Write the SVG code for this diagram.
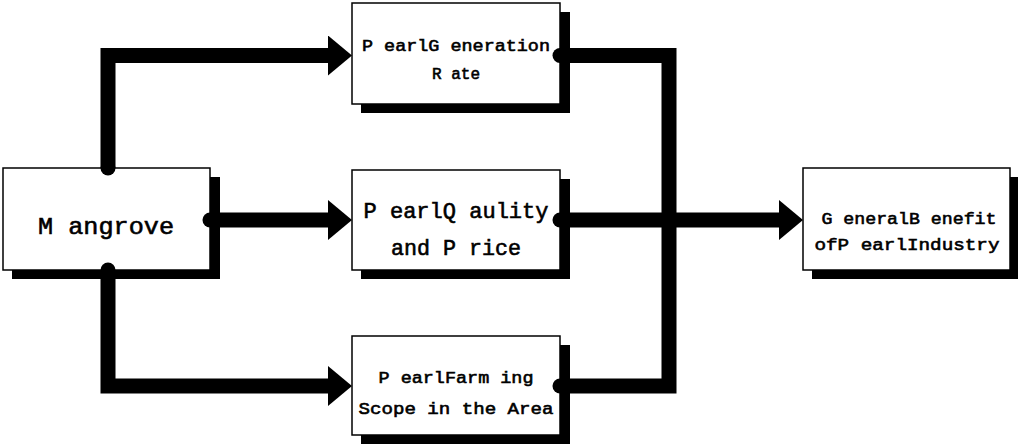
<svg xmlns="http://www.w3.org/2000/svg" width="1018" height="446" viewBox="0 0 1018 446">
<style>
.box{fill:#fff;stroke:#000;stroke-width:1.5}
.sh{fill:#000}
.t{font-family:"Liberation Mono","Courier New",monospace;font-weight:normal;fill:#000;stroke:#000;stroke-width:0.6;text-anchor:middle}
.line{fill:none;stroke:#000;stroke-width:15;stroke-linejoin:miter}
</style>
<defs>
<marker id="ah" markerUnits="userSpaceOnUse" markerWidth="24" markerHeight="40" refX="0" refY="20" orient="auto" viewBox="0 0 24 40">
<polygon points="0,0 24,20 0,40" fill="#000"/>
</marker>
</defs>
<rect width="1018" height="446" fill="#fff"/>
<g id="mangrove">
<rect class="sh" x="12" y="177" width="208" height="102"/>
<rect class="box" x="3" y="168" width="207" height="102"/>
<text class="t" x="106" y="234" font-size="24" textLength="136" lengthAdjust="spacingAndGlyphs">M angrove</text>
</g>
<g id="generation">
<rect class="sh" x="361" y="12" width="209" height="101"/>
<rect class="box" x="352" y="3" width="208" height="101"/>
<text class="t" x="456" y="51" font-size="17" textLength="188" lengthAdjust="spacingAndGlyphs">P earlG eneration</text>
<text class="t" x="456" y="79" font-size="17" textLength="48" lengthAdjust="spacingAndGlyphs">R ate</text>
</g>
<g id="quality">
<rect class="sh" x="361" y="179" width="209" height="100"/>
<rect class="box" x="352" y="170" width="208" height="100"/>
<text class="t" x="456" y="218" font-size="22" textLength="185" lengthAdjust="spacingAndGlyphs">P earlQ aulity</text>
<text class="t" x="456" y="255" font-size="22" textLength="130" lengthAdjust="spacingAndGlyphs">and P rice</text>
</g>
<g id="farming">
<rect class="sh" x="361" y="345" width="209" height="99"/>
<rect class="box" x="352" y="336" width="208" height="99"/>
<text class="t" x="456" y="383" font-size="17" textLength="155" lengthAdjust="spacingAndGlyphs">P earlFarm ing</text>
<text class="t" x="456" y="414" font-size="17" textLength="195" lengthAdjust="spacingAndGlyphs">Scope in the Area</text>
</g>
<g id="benefit">
<rect class="sh" x="812" y="177" width="206" height="102"/>
<rect class="box" x="803" y="168" width="207" height="102"/>
<text class="t" x="909" y="224" font-size="17" textLength="175" lengthAdjust="spacingAndGlyphs">G eneralB enefit</text>
<text class="t" x="907" y="250" font-size="17" textLength="185" lengthAdjust="spacingAndGlyphs">ofP earlIndustry</text>
</g>
<g id="connectors">
<path class="line" d="M108,168 V55.5 H328" marker-end="url(#ah)"/>
<path class="line" d="M210,220 H328" marker-end="url(#ah)"/>
<path class="line" d="M108,270 V386 H328" marker-end="url(#ah)"/>
<path class="line" d="M560,55.5 H669 V386 H560"/>
<path class="line" d="M560,220 H779" marker-end="url(#ah)"/>
<circle cx="108" cy="168" r="7.5"/>
<circle cx="210" cy="220" r="7.5"/>
<circle cx="108" cy="270" r="7.5"/>
<circle cx="560" cy="55.5" r="7.5"/>
<circle cx="560" cy="220" r="7.5"/>
<circle cx="560" cy="386" r="7.5"/>
</g>
</svg>
